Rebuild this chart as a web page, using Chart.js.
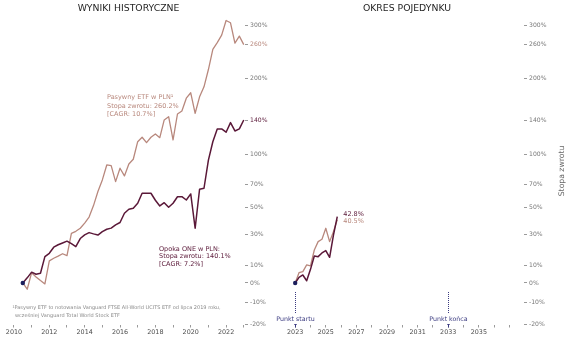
<!DOCTYPE html>
<html>
<head>
<meta charset="utf-8">
<script src="https://cdn.jsdelivr.net/npm/chart.js@4/dist/chart.umd.min.js"></script>
<style>
  html, body { margin: 0; padding: 0; background: #ffffff; }
  #wrap { position: relative; width: 571px; height: 341px; overflow: hidden; }
  canvas { position: absolute; top: 0; }
  #histChart { left: 0; width: 290px; height: 341px; }
  #duelChart { left: 250px; width: 321px; height: 341px; }
</style>
</head>
<body>
<div id="wrap">
  <canvas id="histChart" width="290" height="341"></canvas>
  <canvas id="duelChart" width="321" height="341"></canvas>
</div>
<script>
// ---- Historical results, quarter-end cumulative return in % ----
const histQuarters = [
  '2010Q2','2010Q3','2010Q4',
  '2011Q1','2011Q2','2011Q3','2011Q4',
  '2012Q1','2012Q2','2012Q3','2012Q4',
  '2013Q1','2013Q2','2013Q3','2013Q4',
  '2014Q1','2014Q2','2014Q3','2014Q4',
  '2015Q1','2015Q2','2015Q3','2015Q4',
  '2016Q1','2016Q2','2016Q3','2016Q4',
  '2017Q1','2017Q2','2017Q3','2017Q4',
  '2018Q1','2018Q2','2018Q3','2018Q4',
  '2019Q1','2019Q2','2019Q3','2019Q4',
  '2020Q1','2020Q2','2020Q3','2020Q4',
  '2021Q1','2021Q2','2021Q3','2021Q4',
  '2022Q1','2022Q2','2022Q3','2022Q4'
];
const histEtf = [
  0, -3.3, 5.7, 3.3, 1.3, -0.5, 12.6, 14.2, 15.5, 17.0, 15.8,
  30.6, 32.0, 34.2, 38.0, 42.5, 51.6, 63.5, 74.0, 88.6, 87.9,
  72.4, 85.3, 77.8, 89.6, 94.5, 113.7, 118.9, 112.6, 118.9, 122.8,
  118.4, 140.2, 144.5, 115.7, 148.0, 152.0, 170.0, 178.0, 149.0, 172.0,
  187.0, 215.0, 251.0, 264.0, 279.0, 310.0, 305.0, 263.0, 277.0, 260.2
];
const histOpoka = [
  0, 2.8, 6.0, 4.8, 5.4, 15.2, 17.3, 21.2, 22.8, 24.0, 25.2,
  23.5, 21.6, 27.0, 29.5, 31.1, 30.2, 29.4, 31.8, 33.5, 34.3,
  36.6, 38.4, 45.5, 48.6, 49.4, 53.5, 62.0, 62.0, 62.0, 56.0,
  51.3, 54.0, 50.2, 53.5, 59.0, 59.0, 56.2, 61.4, 34.2, 65.5,
  66.4, 93.6, 113.7, 128.9, 128.9, 124.9, 136.8, 126.4, 128.9, 140.1
];

// ---- Duel period ----
const duelQuarters = [
  '2022Q4',
  '2023Q1','2023Q2','2023Q3','2023Q4',
  '2024Q1','2024Q2','2024Q3','2024Q4',
  '2025Q1','2025Q2','2025Q3'
];
const duelEtf   = [0, 5.7, 6.3, 10.2, 9.6, 19.4, 24.9, 26.5, 34.2, 24.9, 31.8, 40.5];
const duelOpoka = [0, 3.1, 4.4, 1.2, 7.6, 15.6, 15.2, 17.5, 19.0, 14.8, 29.4, 42.8];

// ---- Axes ----
const yTickPct = [-20, -10, 0, 10, 30, 50, 70, 100, 140, 200, 260, 300];
const histYearTicks = [2010, 2011, 2012, 2013, 2014, 2015, 2016, 2017, 2018, 2019, 2020, 2021, 2022, 2023];
const duelYearTicks = [2023, 2024, 2025, 2026, 2027, 2028, 2029, 2030, 2031, 2032, 2033, 2034, 2035, 2036, 2037];
const markerYears  = [2023, 2033];
const markerLabels = ['Punkt startu', 'Punkt końca'];

// ---- Labels ----
const seriesNames = ['Pasywny ETF w PLN\u00B9', 'Opoka ONE w PLN:'];
const cagrPct = [10.7, 7.2];
const footnoteLines = [
  '\u00B9Pasywny ETF to notowania Vanguard FTSE All-World UCITS ETF od lipca 2019 roku,',
  'wcze\u015Bniej Vanguard Total World Stock ETF'
];

const FONT = "'DejaVu Sans', Verdana, sans-serif";
const C_ETF = '#b8887d';
const C_OPOKA = '#5a1838';
const C_NAVY = '#1c1f5c';
const C_MARK = '#3b3b80';
const C_TICK = '#777777';
const C_XLAB = '#4d4d4d';

Chart.defaults.font.family = FONT;
Chart.defaults.animation = false;

const qToYear = q => parseInt(q.slice(0, 4), 10) + parseInt(q.slice(5), 10) * 0.25;
const growth = p => 1 + p / 100;
const toPoints = (qs, vals) => qs.map((q, i) => ({ x: qToYear(q), y: growth(vals[i]) }));
const pctLabel = v => Math.round((v - 1) * 100) + '%';

function yScale(colorFor) {
  return {
    type: 'logarithmic',
    position: 'right',
    min: growth(-20),
    max: growth(320),
    border: { display: false },
    grid: { drawOnChartArea: false, drawTicks: true, tickLength: 3, color: '#9a9a9a' },
    ticks: {
      font: { size: 6.1 },
      padding: 2,
      color: colorFor,
      callback: v => pctLabel(v)
    },
    afterBuildTicks: s => { s.ticks = yTickPct.map(p => ({ value: growth(p) })); },
    afterFit: s => { s.width = 25; }
  };
}

function xScale(min, max, ticks, labelIf) {
  return {
    type: 'linear',
    position: 'bottom',
    min: min,
    max: max,
    border: { display: false },
    grid: { drawOnChartArea: false, drawTicks: true, tickLength: 3, color: '#9a9a9a' },
    ticks: {
      font: { size: 6.4 },
      padding: 1,
      color: C_XLAB,
      maxRotation: 0,
      autoSkip: false,
      callback: v => (labelIf(v) ? String(v) : '')
    },
    afterBuildTicks: s => { s.ticks = ticks.map(v => ({ value: v })); },
    afterFit: s => { s.height = 16; }
  };
}

function lineSet(data, color, width, order) {
  return {
    data: data, borderColor: color, borderWidth: width, pointRadius: 0,
    tension: 0, fill: false, order: order, borderJoinStyle: 'round'
  };
}

function dotSet(x) {
  return {
    data: [{ x: x, y: 1 }], showLine: false, pointRadius: 2.2,
    pointBackgroundColor: C_NAVY, pointBorderWidth: 0, order: 0
  };
}

function drawText(ctx, txt, x, y, size, color, align) {
  ctx.save();
  ctx.font = size + 'px ' + FONT;
  ctx.fillStyle = color;
  ctx.textAlign = align || 'left';
  ctx.textBaseline = 'middle';
  ctx.fillText(txt, x, y);
  ctx.restore();
}

// ---- Historical panel ----
const histLabels = {
  id: 'histLabels',
  afterDraw(chart) {
    const ctx = chart.ctx;
    drawText(ctx, 'WYNIKI HISTORYCZNE', 128.5, 9, 9.3, '#262626', 'center');

    const etfLast = histEtf[histEtf.length - 1];
    drawText(ctx, seriesNames[0], 107, 97, 6.5, C_ETF);
    drawText(ctx, 'Stopa zwrotu: ' + etfLast.toFixed(1) + '%', 107, 106, 6.5, C_ETF);
    drawText(ctx, '[CAGR: ' + cagrPct[0].toFixed(1) + '%]', 107, 114.5, 6.5, C_ETF);

    const opLast = histOpoka[histOpoka.length - 1];
    drawText(ctx, seriesNames[1], 159, 249.3, 6.5, C_OPOKA);
    drawText(ctx, 'Stopa zwrotu: ' + opLast.toFixed(1) + '%', 159, 256.8, 6.5, C_OPOKA);
    drawText(ctx, '[CAGR: ' + cagrPct[1].toFixed(1) + '%]', 159, 264.3, 6.5, C_OPOKA);

    drawText(ctx, footnoteLines[0], 12.5, 307.3, 5.0, '#8a8a8a');
    drawText(ctx, footnoteLines[1], 15, 315.3, 5.0, '#8a8a8a');
  }
};

new Chart(document.getElementById('histChart'), {
  type: 'line',
  data: {
    datasets: [
      dotSet(qToYear(histQuarters[0])),
      lineSet(toPoints(histQuarters, histOpoka), C_OPOKA, 1.5, 1),
      lineSet(toPoints(histQuarters, histEtf), C_ETF, 1.3, 2)
    ]
  },
  options: {
    responsive: false,
    devicePixelRatio: 1,
    layout: { padding: { left: 3, right: 20, top: 16, bottom: 0.5 } },
    plugins: { legend: { display: false }, tooltip: { enabled: false } },
    scales: {
      x: xScale(2009.437, 2023.07, histYearTicks, v => v % 2 === 0 && v <= 2022),
      y: yScale(c => {
        const v = c.tick.value;
        if (Math.abs(v - growth(histEtf[histEtf.length - 1])) < 0.02) return C_ETF;
        if (Math.abs(v - growth(histOpoka[histOpoka.length - 1])) < 0.02) return C_OPOKA;
        return C_TICK;
      })
    }
  },
  plugins: [histLabels]
});

// ---- Duel panel ----
const duelLabels = {
  id: 'duelLabels',
  afterDraw(chart) {
    const ctx = chart.ctx;
    const xs = chart.scales.x, ys = chart.scales.y;
    drawText(ctx, 'OKRES POJEDYNKU', 157, 9, 9.3, '#262626', 'center');

    // values at the end of the lines
    const lastQ = qToYear(duelQuarters[duelQuarters.length - 1]);
    const opEnd = duelOpoka[duelOpoka.length - 1];
    const etfEnd = duelEtf[duelEtf.length - 1];
    const lx = xs.getPixelForValue(lastQ) + 6;
    drawText(ctx, opEnd.toFixed(1) + '%', lx, ys.getPixelForValue(growth(opEnd)) - 2.5, 6.5, C_OPOKA);
    drawText(ctx, etfEnd.toFixed(1) + '%', lx, ys.getPixelForValue(growth(etfEnd)) + 2, 6.5, C_ETF);

    // start / end markers
    markerYears.forEach((yr, i) => {
      const x = Math.round(xs.getPixelForValue(yr)) + 0.5;
      ctx.save();
      ctx.strokeStyle = C_MARK;
      ctx.lineWidth = 1;
      ctx.setLineDash([1, 1]);
      ctx.beginPath();
      ctx.moveTo(x, 292);
      ctx.lineTo(x, 313);
      ctx.stroke();
      ctx.setLineDash([]);
      ctx.beginPath();
      ctx.moveTo(x, 324);
      ctx.lineTo(x, 327.5);
      ctx.moveTo(x - 1.2, 324.5);
      ctx.lineTo(x + 1.2, 324.5);
      ctx.stroke();
      ctx.restore();
      drawText(ctx, markerLabels[i], x, 319.3, 6.3, C_MARK, 'center');
    });

    // axis title, reading upwards
    ctx.save();
    ctx.translate(312, 171);
    ctx.rotate(-Math.PI / 2);
    drawText(ctx, 'Stopa zwrotu', 0, 0, 7.7, '#666666', 'center');
    ctx.restore();
  }
};

new Chart(document.getElementById('duelChart'), {
  type: 'line',
  data: {
    datasets: [
      dotSet(qToYear(duelQuarters[0])),
      lineSet(toPoints(duelQuarters, duelOpoka), C_OPOKA, 1.5, 1),
      lineSet(toPoints(duelQuarters, duelEtf), C_ETF, 1.3, 2)
    ]
  },
  options: {
    responsive: false,
    devicePixelRatio: 1,
    layout: { padding: { left: 36, right: 22, top: 16, bottom: 0.5 } },
    plugins: { legend: { display: false }, tooltip: { enabled: false } },
    scales: {
      x: xScale(2022.4, 2037.95, duelYearTicks, v => v % 2 === 1 && v <= 2035),
      y: yScale(C_TICK)
    }
  },
  plugins: [duelLabels]
});
</script>
</body>
</html>
